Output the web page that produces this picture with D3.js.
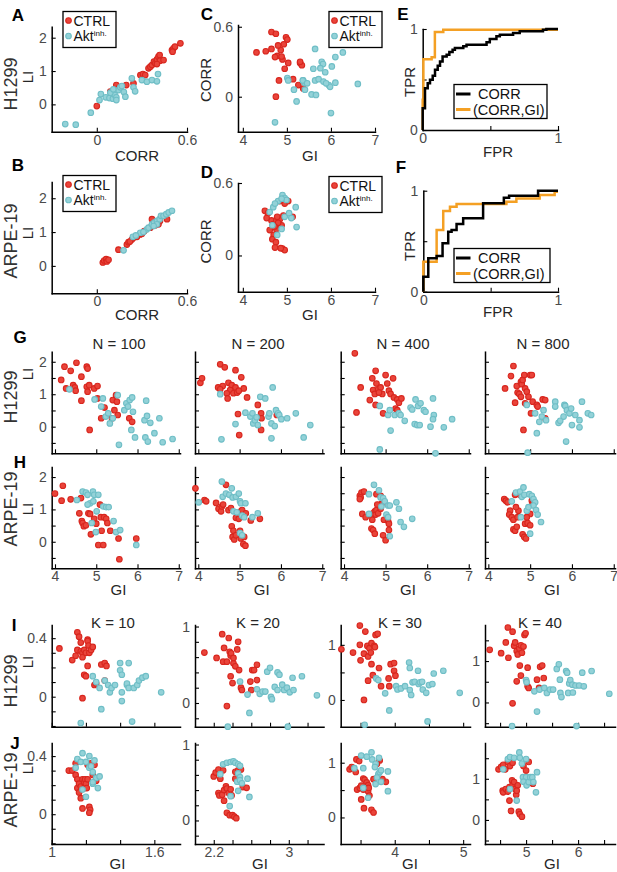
<!DOCTYPE html>
<html><head><meta charset="utf-8">
<script src="https://cdn.jsdelivr.net/npm/d3@7"></script>
<style>
body{margin:0;background:#fff}
svg{display:block}
text{font-family:'Liberation Sans',Arial,Helvetica,sans-serif}
</style>
</head><body><script>
// ---------------- DATA ----------------
const A_CTRL=[[0,-0.05],[0.09,0.38],[0.13,0.58],[0.144,0.48],[0.196,0.58],[0.244,0.63],[0.29,0.88],[0.307,0.91],[0.322,0.88],[0.344,1.08],[0.356,1.13],[0.367,1.18],[0.38,1.28],[0.389,1.23],[0.4,1.35],[0.41,1.43],[0.418,1.48],[0.42,1.31],[0.444,1.33],[0.4,1.21],[0.5,1.63],[0.51,1.68],[0.52,1.73],[0.556,1.83],[0.504,1.58]];
const A_AKT=[[-0.21,-0.59],[-0.14,-0.61],[-0.04,-0.25],[0.018,0.13],[0.027,0.31],[0.06,0.21],[0.084,0.19],[0.107,0.17],[0.12,0.28],[0.13,0.21],[0.144,0.43],[0.156,0.51],[0.167,0.55],[0.18,0.37],[0.19,0.23],[0.13,0.13],[0.233,0.78],[0.244,0.51],[0.255,0.39],[0.3,0.73],[0.333,0.68],[0.367,0.73],[0.407,0.91],[0.4,0.69],[0.09,0.35],[0.11,0.45]];
const B_CTRL=[[0.04,0.1],[0.049,0.16],[0.062,0.2],[0.067,0.13],[0.078,0.18],[0.144,0.48],[0.2,0.63],[0.211,0.7],[0.233,0.78],[0.244,0.83],[0.267,0.86],[0.289,0.93],[0.316,1.03],[0.356,1.13],[0.367,1.38],[0.389,1.2],[0.41,1.23],[0.42,1.33],[0.456,1.48],[0.467,1.38],[0.22,0.72],[0.3,0.95]];
const B_AKT=[[0.178,0.46],[0.24,0.86],[0.289,0.98],[0.333,1.08],[0.344,1.13],[0.367,1.23],[0.382,1.28],[0.4,1.33],[0.418,1.38],[0.427,1.48],[0.444,1.48],[0.462,1.53],[0.478,1.58],[0.5,1.63],[0.4,1.23],[0.378,1.18],[0.31,1.0],[0.26,0.9]];
const C_CTRL=[[4.31,0.38],[4.52,0.39],[4.65,0.555],[4.65,0.41],[4.75,0.54],[4.78,0.35],[4.86,0.40],[4.9,0.32],[4.93,0.45],[4.98,0.51],[5.01,0.49],[4.82,0.14],[4.75,0.0],[4.95,0.24],[5.03,0.29],[5.14,0.15],[5.3,0.29],[5.34,0.27],[5.26,0.1],[4.88,0.345],[4.8,0.44],[4.73,0.34],[5.37,0.07],[5.3,0.30]];
const C_AKT=[[4.73,-0.22],[5.01,0.16],[5.03,0.14],[5.16,0.06],[5.22,-0.04],[5.37,0.14],[5.4,0.12],[5.64,0.41],[6.27,0.38],[6.1,0.34],[5.79,0.30],[5.82,0.28],[5.6,0.24],[5.76,0.245],[5.87,0.21],[6.02,0.26],[5.36,0.14],[5.46,0.115],[5.64,0.14],[5.72,0.15],[5.83,0.13],[5.95,0.1],[6.1,0.12],[5.98,0.085],[5.56,0.02],[5.66,0.015],[6.61,0.11],[6.0,-0.14],[5.41,0.06],[5.89,0.115]];
const D_CTRL=[[4.5,0.37],[4.57,0.35],[4.65,0.29],[4.69,0.26],[4.76,0.22],[4.61,0.21],[4.7,0.17],[4.76,0.29],[4.84,0.3],[4.88,0.25],[4.67,0.135],[4.75,0.11],[4.73,0.065],[4.9,0.057],[4.95,0.045],[4.86,0.06],[4.95,0.43],[5.03,0.45],[4.84,0.45],[4.92,0.33],[4.54,0.31],[5.13,0.32],[4.8,0.27],[4.72,0.24],[4.78,0.32]];
const D_AKT=[[4.61,0.36],[4.69,0.40],[4.8,0.45],[4.9,0.50],[4.95,0.475],[4.99,0.46],[4.88,0.47],[4.73,0.43],[4.67,0.25],[4.78,0.17],[4.95,0.32],[5.05,0.35],[5.1,0.31],[5.2,0.40],[5.22,0.235],[4.88,0.22]];
const E_CORR=[[0,0],[0,0.215],[0.017,0.414],[0.037,0.464],[0.054,0.497],[0.074,0.536],[0.091,0.596],[0.111,0.636],[0.128,0.679],[0.147,0.728],[0.177,0.745],[0.197,0.772],[0.221,0.795],[0.238,0.811],[0.3,0.828],[0.324,0.844],[0.472,0.868],[0.496,0.9],[0.545,0.927],[0.57,0.944],[0.668,0.96],[0.717,0.977],[0.889,0.993],[0.914,1],[1,1]];
const E_CORRGI=[[0,0],[0,0.3],[0.005,0.7],[0.066,0.72],[0.09,0.97],[0.152,0.993],[1,0.993]];
const F_CORR=[[0,0],[0,0.149],[0.037,0.33],[0.099,0.353],[0.143,0.479],[0.185,0.594],[0.21,0.61],[0.247,0.67],[0.296,0.726],[0.444,0.875],[0.598,0.93],[0.637,0.95],[0.852,1],[1,1]];
const F_CORRGI=[[0,0],[0,0.297],[0.099,0.61],[0.148,0.8],[0.198,0.84],[0.247,0.868],[0.617,0.89],[0.691,0.924],[0.864,0.957],[0.975,0.99],[1,0.99]];

const G1_CTRL=[[4.15,1.44],[4.23,1.85],[4.27,1.18],[4.38,1.72],[4.52,1.97],[4.44,1.28],[4.48,1.21],[4.5,1.11],[4.64,1.54],[4.64,0.8],[4.77,1.85],[4.79,1.79],[4.77,1.23],[4.79,1.08],[4.83,1.28],[4.95,1.18],[5.03,1.25],[5.03,0.87],[4.84,-0.1],[5.12,0.26],[5.2,0.59],[5.38,0.26],[5.4,0.82],[5.48,0.97],[5.5,0.77],[5.52,0.36],[5.44,0.51],[5.8,0.26],[5.87,0.15]];
const G1_AKT=[[4.35,1.15],[4.96,0.84],[5.16,0.87],[5.23,0.31],[5.29,0.41],[5.33,0.1],[5.4,0.26],[5.52,0.97],[5.55,-0.56],[5.68,0.51],[5.73,0.72],[5.77,0.62],[5.81,0.82],[5.87,0.9],[5.89,0.46],[5.85,-0.1],[5.94,-0.33],[6.17,0.2],[6.21,0.8],[6.23,0.33],[6.19,-0.33],[6.25,-0.46],[6.31,0.12],[6.41,-0.2],[6.53,0.26],[6.61,-0.48],[6.85,-0.38],[5.12,0.62]];
const G2_CTRL=[[4.05,1.35],[4.09,1.49],[4.53,1.92],[4.64,1.83],[4.9,1.74],[5.04,1.52],[4.48,1.21],[4.59,1.25],[4.73,1.35],[4.81,1.28],[4.9,1.21],[4.77,1.13],[4.69,1.03],[4.85,1.03],[4.94,1.05],[5.1,1.18],[5.18,0.9],[4.98,1.11],[4.71,0.87],[4.96,0.39],[4.99,-0.26],[5.44,0.67],[5.52,0.41],[5.52,-0.1],[5.53,0.26],[5.9,0.36],[4.53,1.15]];
const G2_AKT=[[4.53,1.0],[4.56,-0.39],[4.9,0.08],[5.14,0.43],[5.26,0.31],[5.31,0.41],[5.33,0.1],[5.37,0.2],[5.41,0.29],[5.44,0.05],[5.5,0.92],[5.62,0.87],[5.7,0.31],[5.72,0.41],[5.77,0.1],[5.8,1.21],[5.85,0.02],[5.88,0.51],[5.93,0.41],[5.96,0.36],[6.01,0.23],[6.15,0.26],[6.36,0.41],[6.55,-0.33],[5.77,-0.36],[6.71,0.05]];
const G3_CTRL=[[4.26,2.26],[4.4,1.21],[4.3,0.44],[4.62,0.82],[4.68,1.49],[4.76,1.72],[4.7,1.13],[4.74,1.01],[4.78,1.33],[4.82,1.15],[4.88,1.21],[4.92,1.01],[4.84,1.05],[5.0,1.59],[5.04,1.33],[5.08,1.11],[5.12,1.01],[5.18,1.49],[5.2,0.9],[5.28,0.84],[5.32,0.74],[5.38,0.87],[5.24,0.56],[5.28,0.51],[4.76,0.67],[4.94,0.41]];
const G3_AKT=[[4.86,0.64],[4.86,-0.7],[5.06,0.36],[5.1,0.51],[5.12,-0.12],[5.22,0.36],[5.32,0.41],[5.36,0.36],[5.46,0.18],[5.6,0.59],[5.64,0.53],[5.72,0.84],[5.78,0.64],[5.84,0.72],[5.7,0.08],[5.76,0.05],[5.82,0.05],[5.92,0.51],[5.96,0.46],[6.08,0.0],[6.14,0.87],[6.16,0.36],[6.14,0.23],[6.2,-0.82],[6.4,-0.02],[6.6,0.23]];
const G4_CTRL=[[4.4,1.18],[4.54,1.56],[4.6,1.87],[4.68,1.25],[4.64,0.74],[4.7,1.05],[4.74,1.01],[4.78,1.38],[4.8,1.31],[4.82,1.44],[4.86,1.59],[5.0,1.59],[5.04,1.59],[4.88,1.18],[4.92,1.08],[4.96,0.92],[4.84,-0.1],[4.88,0.72],[5.02,0.41],[5.06,0.77],[5.16,0.67],[5.18,0.62],[5.3,0.84],[5.36,0.82],[5.36,0.26],[4.78,0.92]];
const G4_AKT=[[4.92,0.67],[4.94,-0.8],[5.12,0.41],[5.16,-0.2],[5.22,0.15],[5.28,0.31],[5.32,0.51],[5.38,0.2],[5.6,0.77],[5.6,0.62],[5.68,0.12],[5.72,0.18],[5.82,0.67],[5.84,0.64],[5.88,0.51],[5.94,0.41],[5.98,0.56],[5.8,0.31],[5.86,-0.46],[6.0,0.05],[6.08,0.36],[6.18,0.2],[6.18,-0.02],[6.24,0.77],[6.38,0.41],[6.46,0.36]];

const H1_CTRL=[[4.0,1.49],[4.19,1.73],[4.16,1.27],[4.38,1.31],[4.63,1.35],[4.59,0.88],[4.65,0.64],[4.67,0.58],[4.7,0.48],[4.75,0.51],[4.81,0.88],[4.85,0.86],[4.87,0.23],[4.95,0.71],[5.0,0.56],[5.05,-0.1],[5.09,1.15],[5.11,0.76],[5.13,0.34],[5.17,-0.1],[5.19,0.76],[5.24,0.71],[5.27,0.58],[5.34,0.34],[5.54,0.1],[5.56,-0.54],[5.97,0.1]];
const H1_AKT=[[4.53,1.29],[4.67,1.55],[4.75,1.52],[4.79,1.45],[4.92,1.55],[4.95,1.45],[4.85,1.19],[4.79,1.15],[4.93,1.25],[5.05,1.45],[5.01,0.94],[4.89,0.58],[4.99,0.3],[5.17,1.09],[5.24,1.07],[5.3,1.07],[5.42,0.64],[5.48,0.3],[5.58,0.36],[5.97,-0.1]];
const H2_CTRL=[[3.93,1.65],[4.15,1.29],[4.19,1.25],[4.43,1.2],[4.49,1.02],[4.55,0.94],[4.57,1.09],[4.6,1.15],[4.67,1.76],[4.73,0.98],[4.79,1.04],[4.81,0.48],[4.85,0.34],[4.83,0.15],[4.87,0.07],[4.91,0.2],[4.91,0.74],[4.98,0.71],[5.03,0.94],[5.06,0.98],[5.01,0.34],[5.03,0.1],[5.09,-0.07],[5.11,0.15],[5.14,-0.12],[5.15,0.88],[5.27,0.66],[5.49,0.71]];
const H2_AKT=[[4.01,1.22],[4.57,1.86],[4.59,1.39],[4.67,1.49],[4.75,1.45],[4.81,1.65],[4.83,1.37],[4.91,1.39],[4.98,1.49],[5.01,1.25],[5.03,1.19],[5.14,1.19],[4.85,0.94],[4.93,0.91],[5.06,0.81],[5.11,0.76],[5.31,0.76],[5.44,0.88],[5.01,0.27],[5.06,0.2]];
const H3_CTRL=[[4.38,1.42],[4.42,1.52],[4.48,1.55],[4.4,1.37],[4.38,1.32],[4.44,0.86],[4.52,0.76],[4.66,0.81],[4.68,0.68],[4.7,0.88],[4.74,0.94],[4.76,0.84],[4.78,0.98],[4.82,0.88],[4.88,1.02],[4.9,1.17],[4.8,1.15],[4.78,1.47],[4.88,1.42],[4.66,0.41],[4.7,0.36],[4.74,0.25],[4.94,0.2],[5.0,0.05],[4.96,0.68],[5.06,0.64],[5.08,0.56],[5.08,0.36]];
const H3_AKT=[[4.6,1.47],[4.72,1.76],[4.84,1.59],[4.88,1.37],[4.94,1.35],[4.98,1.25],[5.06,1.12],[5.1,1.12],[5.26,1.22],[5.32,1.02],[5.02,0.84],[5.06,0.76],[4.9,1.09],[4.6,0.86],[5.36,0.61],[5.44,0.46],[5.64,0.71],[5.1,0.17]];
const H4_CTRL=[[4.38,1.32],[4.42,1.27],[4.46,1.22],[4.52,0.96],[4.5,0.84],[4.56,0.76],[4.6,0.68],[4.6,0.38],[4.64,0.34],[4.68,0.46],[4.7,0.76],[4.72,0.96],[4.66,1.07],[4.64,1.45],[4.76,1.45],[4.82,0.23],[4.86,0.15],[4.9,0.1],[4.88,0.56],[4.94,0.58],[5.0,0.51],[5.0,0.86],[5.04,1.27],[5.06,1.17],[4.92,0.76]];
const H4_AKT=[[4.56,1.25],[4.66,1.52],[4.76,1.55],[4.8,1.39],[4.84,1.68],[4.86,1.45],[4.98,1.47],[5.04,1.42],[5.08,1.32],[5.12,1.22],[5.08,1.12],[5.14,0.98],[5.18,0.84],[5.0,0.25],[5.26,0.61],[4.92,0.96],[4.96,1.07],[4.78,0.76]];

const I1_CTRL=[[1.045,0.33],[1.12,0.25],[1.14,0.28],[1.15,0.44],[1.15,0.32],[1.16,0.41],[1.17,0.37],[1.17,0.31],[1.18,0.30],[1.18,0.27],[1.19,0.32],[1.2,0.30],[1.21,0.39],[1.21,0.38],[1.215,0.35],[1.22,0.30],[1.23,0.32],[1.24,0.34],[1.19,0.15],[1.2,0.14],[1.18,-0.01],[1.21,0.21],[1.25,0.08],[1.26,0.09],[1.29,0.22],[1.31,0.23],[1.32,0.21],[1.31,0.11]];
const I1_AKT=[[1.17,-0.18],[1.24,0.14],[1.26,0.10],[1.28,0.06],[1.29,-0.085],[1.31,0.11],[1.33,0.08],[1.34,0.03],[1.35,0.06],[1.37,0.08],[1.4,0.18],[1.41,0.03],[1.41,-0.03],[1.4,0.23],[1.41,0.15],[1.44,0.08],[1.44,0.09],[1.45,0.23],[1.45,0.06],[1.47,-0.17],[1.48,0.06],[1.5,0.08],[1.51,0.11],[1.53,0.13],[1.55,0.14],[1.64,0.03]];
const I2_CTRL=[[2.1,0.66],[2.23,0.59],[2.29,0.9],[2.3,0.54],[2.31,0.72],[2.34,0.54],[2.36,0.85],[2.37,0.67],[2.38,0.62],[2.385,0.65],[2.41,0.52],[2.41,0.59],[2.43,0.48],[2.45,0.7],[2.46,0.8],[2.47,0.43],[2.38,0.35],[2.4,0.26],[2.49,0.2],[2.5,0.17],[2.59,0.28],[2.6,0.17],[2.61,0.43],[2.63,0.43],[2.66,0.5],[2.66,0.3],[2.34,-0.04]];
const I2_AKT=[[2.35,-0.31],[2.48,0.28],[2.56,0.11],[2.58,-0.13],[2.66,0.18],[2.69,0.12],[2.72,0.15],[2.75,0.15],[2.77,0.41],[2.8,0.46],[2.81,0.08],[2.82,0.05],[2.85,0.21],[2.88,0.17],[2.88,0.4],[2.9,0.37],[2.93,0.24],[2.95,0.17],[2.98,0.2],[2.99,-0.31],[3.01,0.14],[3.04,0.33],[3.05,0.17],[3.14,0.35],[3.3,0.1]];
const I3_CTRL=[[3.22,0.92],[3.39,0.86],[3.49,1.35],[3.49,1.0],[3.5,0.72],[3.55,0.84],[3.57,1.24],[3.6,0.98],[3.61,0.79],[3.63,0.94],[3.65,0.86],[3.66,1.03],[3.7,0.98],[3.71,0.96],[3.72,1.18],[3.75,1.2],[3.66,0.65],[3.55,0.0],[3.61,0.35],[3.68,0.45],[3.77,0.58],[3.8,0.25],[3.91,0.39],[3.92,0.25],[3.94,0.65],[3.99,0.67],[3.99,0.53],[4.01,0.44]];
const I3_AKT=[[3.56,-0.45],[3.73,0.39],[3.76,0.36],[3.86,0.12],[3.92,-0.19],[4.02,0.25],[4.04,0.19],[4.09,0.21],[4.15,0.25],[4.21,0.68],[4.22,0.58],[4.22,0.18],[4.24,0.09],[4.26,0.32],[4.29,0.33],[4.34,0.53],[4.35,0.29],[4.37,0.32],[4.4,0.33],[4.41,0.19],[4.46,0.13],[4.48,-0.39],[4.5,0.27],[4.55,0.29],[4.57,0.48],[4.71,0.53],[4.95,0.13]];
const I4_CTRL=[[4.3,1.27],[4.52,1.19],[4.65,1.81],[4.66,1.08],[4.61,1.45],[4.74,1.71],[4.77,1.37],[4.79,1.45],[4.82,1.24],[4.84,1.16],[4.87,1.3],[4.9,1.38],[4.92,1.2],[4.95,1.35],[4.97,1.63],[4.99,1.67],[4.74,-0.02],[4.82,0.51],[4.88,0.89],[4.9,0.65],[5.03,0.39],[5.05,0.35],[5.03,0.84],[5.21,0.55],[5.25,0.35],[5.27,0.86],[5.31,0.89],[5.34,0.59]];
const I4_AKT=[[4.73,-0.57],[5.0,0.54],[5.01,0.49],[5.16,0.27],[5.21,-0.22],[5.26,0.31],[5.35,0.35],[5.4,0.23],[5.46,0.31],[5.52,0.31],[5.59,0.81],[5.63,0.92],[5.65,0.55],[5.66,0.23],[5.68,0.13],[5.77,0.76],[5.79,0.72],[5.81,0.23],[5.83,0.46],[5.85,0.54],[5.89,0.43],[5.9,0.24],[5.95,0.41],[5.97,-0.57],[6.02,0.41],[6.08,0.72],[6.11,0.39],[6.26,0.76],[6.6,0.21]];

const J1_CTRL=[[1.1,0.3],[1.12,0.3],[1.14,0.35],[1.14,0.27],[1.15,0.24],[1.15,0.18],[1.16,0.21],[1.16,0.15],[1.17,0.11],[1.17,0.19],[1.18,0.24],[1.19,0.22],[1.19,0.18],[1.195,0.24],[1.2,0.21],[1.205,0.18],[1.21,0.24],[1.21,0.34],[1.18,0.04],[1.22,0.05],[1.225,0.03],[1.22,0.01],[1.23,0.35],[1.24,0.27],[1.25,0.34],[1.26,0.23]];
const J1_AKT=[[1.14,0.32],[1.15,0.38],[1.18,0.42],[1.17,0.36],[1.2,0.36],[1.22,0.4],[1.22,0.32],[1.23,0.33],[1.24,0.29],[1.24,0.21],[1.25,0.37],[1.26,0.25],[1.28,0.26],[1.27,0.18],[1.18,0.17],[1.2,0.12],[1.24,0.22]];
const J2_CTRL=[[2.2,0.58],[2.22,0.63],[2.25,0.67],[2.27,0.55],[2.3,0.66],[2.25,0.36],[2.26,0.33],[2.29,0.34],[2.31,0.4],[2.31,0.26],[2.33,0.45],[2.34,0.42],[2.36,0.36],[2.38,0.41],[2.39,0.33],[2.34,0.1],[2.37,0.07],[2.4,0.07],[2.42,0.05],[2.44,0.03],[2.43,0.64],[2.46,0.66],[2.49,0.67],[2.43,0.55],[2.51,0.44],[2.55,0.43]];
const J2_AKT=[[2.27,0.61],[2.3,0.74],[2.34,0.76],[2.38,0.77],[2.41,0.78],[2.43,0.76],[2.46,0.74],[2.48,0.72],[2.46,0.62],[2.48,0.57],[2.45,0.51],[2.48,0.53],[2.5,0.49],[2.56,0.55],[2.58,0.31],[2.46,0.39],[2.38,0.32],[2.37,0.19]];
const J3_CTRL=[[3.34,0.88],[3.37,0.92],[3.4,0.9],[3.43,0.83],[3.44,1.06],[3.48,1.03],[3.45,0.51],[3.49,0.54],[3.51,0.58],[3.54,0.71],[3.56,0.69],[3.59,0.64],[3.61,0.59],[3.54,0.51],[3.58,0.53],[3.61,0.48],[3.62,0.54],[3.63,0.4],[3.51,0.33],[3.55,0.17],[3.66,0.14],[3.69,0.09],[3.69,0.7],[3.78,1.04],[3.74,0.98],[3.87,0.65],[3.82,0.7]];
const J3_AKT=[[3.41,0.9],[3.51,1.13],[3.59,1.11],[3.66,1.19],[3.67,1.06],[3.72,0.98],[3.71,0.92],[3.77,1.09],[3.54,0.9],[3.76,0.79],[3.74,0.73],[3.78,0.83],[3.8,0.86],[3.72,0.61],[3.8,0.65],[3.9,0.84],[3.9,0.48],[3.61,0.36],[3.54,0.54]];
const J4_CTRL=[[4.47,1.23],[4.52,1.29],[4.56,1.34],[4.6,1.23],[4.65,1.41],[4.69,1.31],[4.74,1.39],[4.55,0.71],[4.56,0.67],[4.61,0.75],[4.65,0.69],[4.68,0.8],[4.73,0.96],[4.74,0.85],[4.77,0.92],[4.79,0.75],[4.81,0.61],[4.84,0.84],[4.82,0.71],[4.68,0.47],[4.71,0.22],[4.86,0.2],[4.88,0.14],[4.92,0.08],[4.95,1.31],[5.0,1.2],[5.05,1.41],[5.13,0.88]];
const J4_AKT=[[4.56,1.23],[4.65,1.48],[4.69,1.53],[4.77,1.51],[4.87,1.64],[4.88,1.51],[4.92,1.37],[5.0,1.48],[4.94,1.04],[5.0,1.04],[4.95,0.93],[5.01,0.84],[5.05,0.92],[5.08,1.04],[5.12,1.04],[5.14,0.92],[5.21,1.16],[5.19,0.67],[4.69,0.75],[4.82,0.47]];

const N_TITLES=['N = 100','N = 200','N = 400','N = 800'];
const K_TITLES=['K = 10','K = 20','K = 30','K = 40'];
const GH_XTICKS=[4,5,6,7], GH_YTICKS=[-0.5,0,0.5,1,1.5,2];
const IJ_XDOM=[[1,1.75],[2.0,3.37],[3.21,5.1],[4.21,6.71]];
const IJ_YDOM=[[-0.205,0.49],[-0.31,1.02],[-0.485,1.36],[-0.585,1.87]];
const IJ_XTICKS=[[1,1.2,1.4,1.6],[2.2,2.4,2.6,2.8,3,3.2],[3.5,4,4.5,5],[4.5,5,5.5,6,6.5]];
const IJ_XLABELS=[[1,1.6],[2.2,3],[4,5],[5,6]];
const IJ_YTICKS=[[-0.2,-0.1,0,0.1,0.2,0.3,0.4],[-0.2,0,0.2,0.4,0.6,0.8,1],[0,0.5,1],[-0.5,0,0.5,1,1.5]];
const IJ_YLABELS=[[0,0.4],[0,1],[0,1],[0,1]];

// ---------------- DRAWING ----------------
const svg=d3.select('body').append('svg').attr('width',617).attr('height',872);
const RED='#e9443a', RED_S='#d8261e', CYAN='#93d2d8', CYAN_S='#6fbec6', ORANGE='#f4a024';
const TICKC='#4a4a4a', LABC='#262626';
const near=(a,list)=>list.some(b=>Math.abs(a-b)<1e-9);
const fmt=v=>String(+(+v).toFixed(2));

function axes(c,x,y){
  const bx=svg.append('g').attr('transform',`translate(0,${c.y1})`)
    .call(d3.axisBottom(x).tickValues(c.xTicks).tickSizeInner(-4).tickSizeOuter(0).tickPadding(3)
      .tickFormat(d=>near(d,c.xLab||[])?fmt(d):''));
  const ly=svg.append('g').attr('transform',`translate(${c.x0},0)`)
    .call(d3.axisLeft(y).tickValues(c.yTicks).tickSizeInner(-4).tickSizeOuter(0).tickPadding(5)
      .tickFormat(d=>near(d,c.yLab||[])?fmt(d):''));
  [bx,ly].forEach(a=>{
    a.select('.domain').attr('stroke','#000').attr('stroke-width',1.5).attr('stroke-linecap','square');
    a.selectAll('.tick line').attr('stroke','#000').attr('stroke-width',1.1);
    a.selectAll('.tick text').attr('font-size',14).attr('fill',TICKC)
      .attr('font-family',"'Liberation Sans',Arial,sans-serif");
  });
}
function dots(x,y,data,fill,stroke){
  svg.append('g').selectAll('circle').data(data).join('circle')
    .attr('cx',d=>x(d[0])).attr('cy',d=>y(d[1])).attr('r',2.8)
    .attr('fill',fill).attr('stroke',stroke).attr('stroke-width',1.1);
}
function scatter(c){
  const x=d3.scaleLinear().domain(c.xDom).range([c.x0,c.x1]);
  const y=d3.scaleLinear().domain(c.yDom).range([c.y1,c.y0]);
  axes(c,x,y);
  dots(x,y,c.ctrl,RED,RED_S);
  dots(x,y,c.akt,CYAN,CYAN_S);
}
function roc(c){
  const x=d3.scaleLinear().domain([0,1]).range([c.x0,c.x1]);
  const y=d3.scaleLinear().domain([0,1]).range([c.y1,c.y0]);
  axes(Object.assign({xTicks:[0,0.5,1],xLab:[0,1],yTicks:[0,0.5,1],yLab:[0,1]},c),x,y);
  const line=d3.line().x(d=>x(d[0])).y(d=>y(d[1])).curve(d3.curveStepAfter);
  svg.append('path').datum(c.gi).attr('d',line).attr('fill','none').attr('stroke',ORANGE).attr('stroke-width',2.5);
  svg.append('path').datum(c.corr).attr('d',line).attr('fill','none').attr('stroke','#000').attr('stroke-width',2.5);
}
function text(x,y,s,o={}){
  const t=svg.append('text').attr('x',x).attr('y',y).text(s)
    .attr('font-size',o.size||15).attr('fill',o.fill||LABC)
    .attr('text-anchor',o.anchor||'middle').attr('dominant-baseline','central');
  if(o.bold) t.attr('font-weight','bold');
  if(o.rot) t.attr('transform',`rotate(-90,${x},${y})`);
  return t;
}
function scatterLegend(bx,by){
  svg.append('rect').attr('x',bx).attr('y',by).attr('width',53).attr('height',36)
    .attr('fill','#fff').attr('stroke','#000').attr('stroke-width',1.3);
  svg.append('circle').attr('cx',bx+5.5).attr('cy',by+9).attr('r',2.8).attr('fill',RED).attr('stroke',RED_S).attr('stroke-width',1.1);
  svg.append('circle').attr('cx',bx+5.5).attr('cy',by+24.5).attr('r',2.8).attr('fill',CYAN).attr('stroke',CYAN_S).attr('stroke-width',1.1);
  text(bx+10.5,by+9,'CTRL',{anchor:'start',fill:'#111',size:14});
  const t=svg.append('text').attr('x',bx+10.5).attr('y',by+29.5).attr('font-size',14).attr('fill','#111').attr('text-anchor','start');
  t.append('tspan').text('Akt');
  t.append('tspan').attr('font-size',8).attr('dy',-5).text('inh.');
}
function rocLegend(bx,by,w){
  svg.append('rect').attr('x',bx).attr('y',by).attr('width',w).attr('height',34)
    .attr('fill','#fff').attr('stroke','#000').attr('stroke-width',1.3);
  svg.append('line').attr('x1',bx+2).attr('x2',bx+16.5).attr('y1',by+9.5).attr('y2',by+9.5).attr('stroke','#000').attr('stroke-width',3);
  svg.append('line').attr('x1',bx+2).attr('x2',bx+16.5).attr('y1',by+25).attr('y2',by+25).attr('stroke',ORANGE).attr('stroke-width',3);
  text(bx+24,by+9.5,'CORR',{anchor:'start',fill:'#111',size:14.5});
  text(bx+19,by+25,'(CORR,GI)',{anchor:'start',fill:'#111',size:14.5});
}

// Row 1 & 2
scatter({x0:51.7,x1:187,y0:26.7,y1:131.7,xDom:[-0.3,0.6],yDom:[-0.82,2.33],xTicks:[0,0.6],xLab:[0,0.6],yTicks:[0,1,2],yLab:[0,1,2],ctrl:A_CTRL,akt:A_AKT});
scatter({x0:51.7,x1:187,y0:182,y1:293.3,xDom:[-0.3,0.6],yDom:[-0.81,2.48],xTicks:[0,0.6],xLab:[0,0.6],yTicks:[0,1,2],yLab:[0,1,2],ctrl:B_CTRL,akt:B_AKT});
scatter({x0:238,x1:375,y0:25,y1:131.7,xDom:[3.89,7],yDom:[-0.3,0.615],xTicks:[4,5,6,7],xLab:[4,5,6,7],yTicks:[0,0.6],yLab:[0,0.6],ctrl:C_CTRL,akt:C_AKT});
scatter({x0:238,x1:375,y0:183,y1:291.7,xDom:[3.89,7],yDom:[-0.3,0.6],xTicks:[4,5,6,7],xLab:[4,5,6,7],yTicks:[0,0.6],yLab:[0,0.6],ctrl:D_CTRL,akt:D_AKT});
roc({x0:422.7,x1:558,y0:29,y1:130,corr:E_CORR,gi:E_CORRGI});
roc({x0:423.3,x1:558,y0:190.7,y1:291.7,corr:F_CORR,gi:F_CORRGI});
scatterLegend(63,11.5); scatterLegend(63,175.5); scatterLegend(329,11.5); scatterLegend(329,176.5);
rocLegend(454,84.5,93); rocLegend(454,248.5,96);

// Grid rows
const COLX0=[51.7,195,340.7,485], COLX1=[180,323.5,470,615];
const GH=[[G1_CTRL,G1_AKT],[G2_CTRL,G2_AKT],[G3_CTRL,G3_AKT],[G4_CTRL,G4_AKT]];
const HH=[[H1_CTRL,H1_AKT],[H2_CTRL,H2_AKT],[H3_CTRL,H3_AKT],[H4_CTRL,H4_AKT]];
const II=[[I1_CTRL,I1_AKT],[I2_CTRL,I2_AKT],[I3_CTRL,I3_AKT],[I4_CTRL,I4_AKT]];
const JJ=[[J1_CTRL,J1_AKT],[J2_CTRL,J2_AKT],[J3_CTRL,J3_AKT],[J4_CTRL,J4_AKT]];
for(let i=0;i<4;i++){
  const base={x0:COLX0[i],x1:COLX1[i],xDom:[3.92,7.03],yDom:[-0.82,2.31],xTicks:GH_XTICKS,yTicks:GH_YTICKS,yLab:i===0?[0,1,2]:[]};
  scatter(Object.assign({},base,{y0:351.7,y1:453.3,xLab:[],ctrl:GH[i][0],akt:GH[i][1]}));
  scatter(Object.assign({},base,{y0:467,y1:568.3,xLab:GH_XTICKS,ctrl:HH[i][0],akt:HH[i][1]}));
  const b2={x0:COLX0[i],x1:COLX1[i],xDom:IJ_XDOM[i],yDom:IJ_YDOM[i],xTicks:IJ_XTICKS[i],yTicks:IJ_YTICKS[i],yLab:IJ_YLABELS[i]};
  scatter(Object.assign({},b2,{y0:625,y1:726.7,xLab:[],ctrl:II[i][0],akt:II[i][1]}));
  scatter(Object.assign({},b2,{y0:743,y1:844,xLab:IJ_XLABELS[i],ctrl:JJ[i][0],akt:JJ[i][1]}));
}
const NX=[119,258,403,543], KX=[113,258,400,540];
N_TITLES.forEach((t,i)=>text(NX[i],343,t));
K_TITLES.forEach((t,i)=>text(KX[i],622,t));
[118.5,261.7,408,552].forEach(x=>text(x,589,'GI'));
[117.5,260,410,552].forEach(x=>text(x,863,'GI'));

// axis labels row 1/2
text(137,155,'CORR'); text(137,314,'CORR');
text(310,155,'GI'); text(310,314,'GI');
text(498,151,'FPR'); text(498,311,'FPR');
text(205.5,80,'CORR',{rot:true}); text(205.5,241.5,'CORR',{rot:true});
text(409,82,'TPR',{rot:true}); text(409,246,'TPR',{rot:true});

// row labels
const ROWLAB=[['H1299',84,77],['ARPE-19',241,233],['H1299',397,374],['ARPE-19',509,509],['H1299',681,662],['ARPE-19',790,768]];
ROWLAB.forEach(r=>{text(11,r[1],r[0],{rot:true,size:18,fill:'#333'}); text(27.5,r[2],'LI',{rot:true,size:15});});

// panel letters
[['A',18,15],['B',18,165],['C',207,14],['D',207,172],['E',403,14],['F',401,167],['G',20,337],['H',20,462],['I',14,625],['J',15,743]]
  .forEach(p=>text(p[1],p[2],p[0],{bold:true,size:17,fill:'#000'}));
</script></body></html>
